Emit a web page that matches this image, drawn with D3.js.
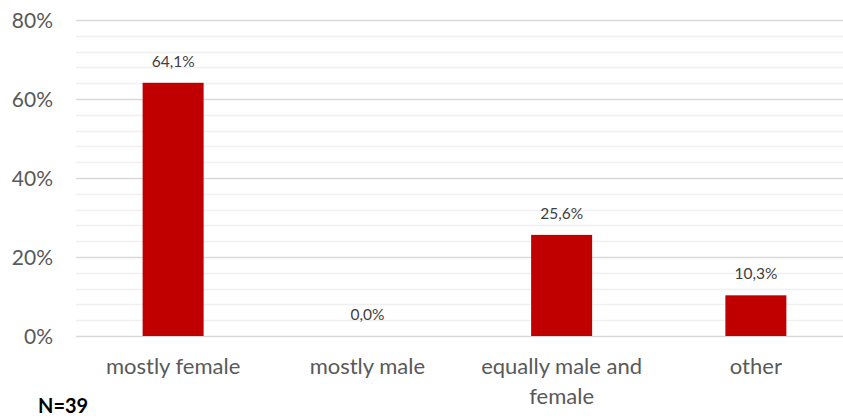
<!DOCTYPE html>
<html>
<head>
<meta charset="utf-8">
<script src="https://cdn.jsdelivr.net/npm/d3@7"></script>
<style>
  html, body { margin: 0; padding: 0; overflow: hidden; background: #fff; }
  svg { display: block; }
  text { font-family: Lato, "Liberation Sans", sans-serif; }
</style>
</head>
<body>
<script>
// chart data
var categories = ["mostly female", "mostly male", "equally male and female", "other"];
var values = [64.1, 0.0, 25.6, 10.3];
var valueLabels = ["64,1%", "0,0%", "25,6%", "10,3%"];
var yTicks = [0, 20, 40, 60, 80];
var minorTicks = d3.range(0, 81, 4);
var noteText = "N=39";

var width = 843, height = 419;
var margin = {top: 20, right: -10, bottom: 83, left: 76};

var svg = d3.select("body").append("svg")
  .attr("width", width)
  .attr("height", height);

var x = d3.scaleBand()
  .domain(categories)
  .range([margin.left, width - margin.right])
  .paddingInner(0.686)
  .paddingOuter(0.343);

var y = d3.scaleLinear()
  .domain([0, 80])
  .range([height - margin.bottom, margin.top]);

// minor gridlines
svg.append("g")
  .selectAll("line")
  .data(minorTicks.filter(function(d) { return d % 20 !== 0; }))
  .enter().append("line")
  .attr("x1", margin.left).attr("x2", width)
  .attr("y1", function(d) { return Math.round(y(d)) + 0.5; })
  .attr("y2", function(d) { return Math.round(y(d)) + 0.5; })
  .attr("stroke", "#f0f0f0")
  .attr("stroke-width", 1.5);

// major gridlines
svg.append("g")
  .selectAll("line")
  .data(yTicks)
  .enter().append("line")
  .attr("x1", margin.left).attr("x2", width)
  .attr("y1", function(d) { return Math.round(y(d)) + 0.5; })
  .attr("y2", function(d) { return Math.round(y(d)) + 0.5; })
  .attr("stroke", "#d9d9d9")
  .attr("stroke-width", 1.5);

// y axis labels
var yAxis = d3.axisLeft(y)
  .tickValues(yTicks)
  .tickSize(0)
  .tickPadding(0)
  .tickFormat(function(d) { return d + "%"; });

var gy = svg.append("g")
  .attr("transform", "translate(53,0)")
  .call(yAxis);
gy.select(".domain").remove();
gy.selectAll("text")
  .attr("fill", "#595959")
  .style("font-size", "21px")
  .attr("dy", "0.36em");

// bars
svg.append("g")
  .selectAll("rect")
  .data(values)
  .enter().append("rect")
  .attr("x", function(d, i) { return x(categories[i]); })
  .attr("width", x.bandwidth())
  .attr("y", function(d) { return y(d); })
  .attr("height", function(d) { return y(0) - y(d); })
  .attr("fill", "#c00000");

// data labels
svg.append("g")
  .selectAll("text")
  .data(values)
  .enter().append("text")
  .attr("x", function(d, i) { return x(categories[i]) + x.bandwidth() / 2; })
  .attr("y", function(d) { return y(d) - 16; })
  .attr("text-anchor", "middle")
  .attr("fill", "#404040")
  .style("font-size", "15.5px")
  .text(function(d, i) { return valueLabels[i]; });

// category labels, wrapped like the original
var catLines = {
  "equally male and female": ["equally male and", "female"]
};
var gx = svg.append("g");
categories.forEach(function(c) {
  var lines = catLines[c] || [c];
  var t = gx.append("text")
    .attr("x", x(c) + x.bandwidth() / 2)
    .attr("y", y(0) + 38)
    .attr("text-anchor", "middle")
    .attr("fill", "#595959")
    .style("font-size", "22px");
  lines.forEach(function(l, i) {
    t.append("tspan")
      .attr("x", x(c) + x.bandwidth() / 2)
      .attr("dy", i === 0 ? 0 : 30)
      .text(l);
  });
});

// note
svg.append("text")
  .attr("x", 38)
  .attr("y", 413)
  .attr("fill", "#000")
  .style("font-size", "20px")
  .style("font-weight", "bold")
  .text(noteText);
</script>
</body>
</html>
